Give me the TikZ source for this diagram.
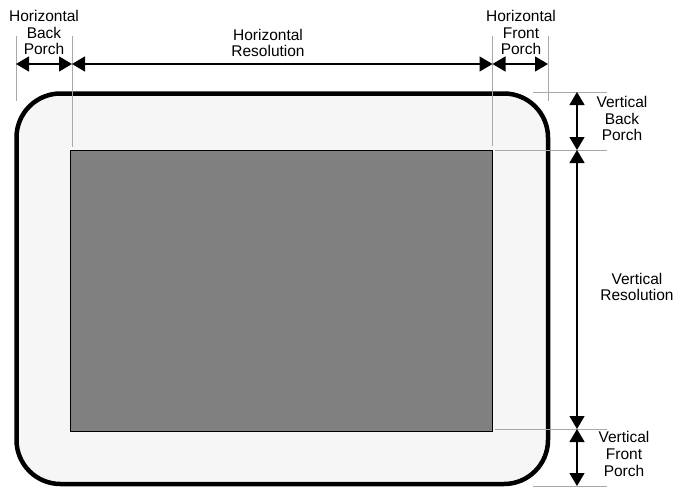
\documentclass[tikz,border=0pt]{standalone}
\usepackage{fontspec}
\setmainfont{Liberation Sans}
\usetikzlibrary{arrows.meta}
\definecolor{panel}{HTML}{F6F6F6}
\definecolor{screen}{HTML}{808080}
\definecolor{guide}{HTML}{A8A8A8}
\begin{document}
\begin{tikzpicture}[x=1pt,y=-1pt,
  guideline/.style={draw=guide,line width=1pt},
  dimarrow/.style={draw=black,line width=1.4pt,{Triangle[length=13pt,width=15pt]}-{Triangle[length=13pt,width=15pt]}},
  lbl/.style={font=\fontsize{15.5}{16.8}\selectfont,align=center,inner sep=0pt,text=black}]
\useasboundingbox (0,0) rectangle (682,487);
% outer display
\draw[line width=4.5pt,fill=panel,rounded corners=44pt] (16.5,93.5) rectangle (548,484);
% active area
\node[draw=black,line width=0.8pt,fill=screen,minimum width=422pt,minimum height=281pt,inner sep=0pt,anchor=north west] (scr) at (70,150) {};
% coordinates
\coordinate (hA) at (16,64);
\coordinate (hB) at (72,64);
\coordinate (hC) at (492.5,64);
\coordinate (hD) at (548,64);
\coordinate (vA) at (577,92);
\coordinate (vB) at (577,150);
\coordinate (vC) at (577,429);
\coordinate (vD) at (577,486);
% guide lines
\coordinate (g1a) at (16,36); \coordinate (g1b) at (16,101);
\coordinate (g2a) at (72,36); \coordinate (g2b) at (72,147);
\coordinate (g3a) at (492.5,36); \coordinate (g3b) at (492.5,146);
\coordinate (g4a) at (548,36); \coordinate (g4b) at (548,101);
\coordinate (g5a) at (533,92); \coordinate (g5b) at (607,92);
\coordinate (g6a) at (495,150); \coordinate (g6b) at (607,150);
\coordinate (g7a) at (495,429); \coordinate (g7b) at (607,429);
\coordinate (g8a) at (533,486); \coordinate (g8b) at (607,486);
\foreach \g in {1,...,8} {\draw[guideline] (g\g a) -- (g\g b);}
% dimension arrows
\draw[dimarrow] (hA) -- (hB);
\draw[dimarrow] (hB) -- (hC);
\draw[dimarrow] (hC) -- (hD);
\draw[dimarrow] (vA) -- (vB);
\draw[dimarrow] (vB) -- (vC);
\draw[dimarrow] (vC) -- (vD);
% labels
\node[lbl] (hbp) at (44,32.5) {Horizontal\\Back\\Porch};
\node[lbl] (hres) at (268,43) {Horizontal\\Resolution};
\node[lbl] (hfp) at (521,32.5) {Horizontal\\Front\\Porch};
\node[lbl] (vbp) at (622,118.5) {Vertical\\Back\\Porch};
\node[lbl] (vres) at (637,287) {Vertical\\Resolution};
\node[lbl] (vfp) at (624,454) {Vertical\\Front\\Porch};
\end{tikzpicture}
\end{document}
